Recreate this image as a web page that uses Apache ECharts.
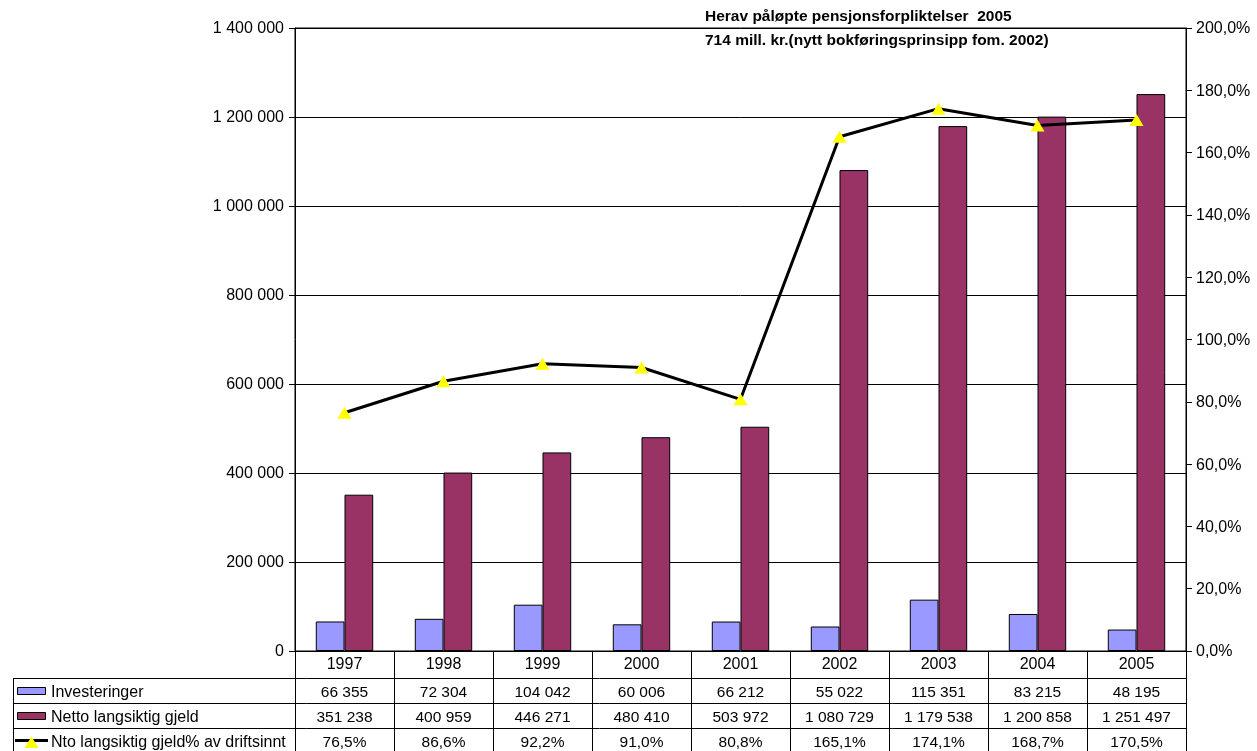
<!DOCTYPE html>
<html>
<head>
<meta charset="utf-8">
<script src="https://cdn.jsdelivr.net/npm/echarts@6/dist/echarts.min.js"></script>
<style>
  html, body { margin: 0; padding: 0; background: #fff; }
  #chart { width: 1257px; height: 751px; }
</style>
</head>
<body>
<div id="chart"></div>
<script>
// Investments and net long-term debt per year (NOK 1000), plus debt as share of operating income
const years = ['1997', '1998', '1999', '2000', '2001', '2002', '2003', '2004', '2005'];
const investeringer = [66355, 72304, 104042, 60006, 66212, 55022, 115351, 83215, 48195];
const nettoGjeld = [351238, 400959, 446271, 480410, 503972, 1080729, 1179538, 1200858, 1251497];
const gjeldProsent = [76.5, 86.6, 92.2, 91.0, 80.8, 165.1, 174.1, 168.7, 170.5];

// axis tick values
const leftTicks = [0, 200000, 400000, 600000, 800000, 1000000, 1200000, 1400000];
const rightTicks = [0, 20, 40, 60, 80, 100, 120, 140, 160, 180, 200];

const seriesNames = ['Investeringer', 'Netto langsiktig gjeld', 'Nto langsiktig gjeld% av driftsinnt'];
const noteLines = ['Herav påløpte pensjonsforpliktelser  2005', '714 mill. kr.(nytt bokføringsprinsipp fom. 2002)'];

const FONT = '"Liberation Sans", Arial, sans-serif';
const BLUE = '#9999FF';
const PLUM = '#993366';

function fmtThousands(v) {
  return String(Math.round(v)).replace(/\B(?=(\d{3})+(?!\d))/g, ' ');
}
function fmtPct(v) {
  return v.toFixed(1).replace('.', ',') + '%';
}

const GRID = { left: 295, right: 71, top: 28, bottom: 100 };
const W = 1257, H = 751;
const plotRight = W - GRID.right;

const chart = echarts.init(document.getElementById('chart'), null, { renderer: 'canvas' });

chart.setOption({
  animation: false,
  backgroundColor: '#fff',
  textStyle: { fontFamily: FONT },
  grid: Object.assign({ show: true, borderColor: '#000', borderWidth: 1, containLabel: false }, GRID),
  xAxis: {
    type: 'category',
    data: years,
    boundaryGap: true,
    axisLine: { show: true, lineStyle: { color: '#000', width: 1 } },
    axisTick: { show: true, length: 100, lineStyle: { color: '#000', width: 1 } },
    axisLabel: { show: false },
    splitLine: { show: false }
  },
  yAxis: [
    {
      type: 'value',
      min: leftTicks[0], max: leftTicks[leftTicks.length - 1], interval: leftTicks[1] - leftTicks[0],
      position: 'left',
      axisLine: { show: true, lineStyle: { color: '#000', width: 1 } },
      axisTick: { show: true, inside: false, length: 6, lineStyle: { color: '#000' } },
      axisLabel: { show: false },
      splitLine: { show: true, lineStyle: { color: '#000', width: 1 } }
    },
    {
      type: 'value',
      min: rightTicks[0], max: rightTicks[rightTicks.length - 1], interval: rightTicks[1] - rightTicks[0],
      position: 'right',
      axisLine: { show: true, lineStyle: { color: '#000', width: 1 } },
      axisTick: { show: true, inside: false, length: 6, lineStyle: { color: '#000' } },
      axisLabel: { show: false },
      splitLine: { show: false }
    }
  ],
  series: [
    {
      name: seriesNames[0], type: 'bar', data: investeringer,
      barGap: '0%', barCategoryGap: '42%',
      itemStyle: { color: BLUE, borderColor: '#000', borderWidth: 1 }
    },
    {
      name: seriesNames[1], type: 'bar', data: nettoGjeld,
      barGap: '0%', barCategoryGap: '42%',
      itemStyle: { color: PLUM, borderColor: '#000', borderWidth: 1 }
    },
    {
      name: seriesNames[2], type: 'line', yAxisIndex: 1, data: gjeldProsent,
      z: 5,
      lineStyle: { color: '#000', width: 3 },
      symbol: 'triangle', symbolSize: [14, 12], showAllSymbol: true,
      itemStyle: { color: '#FFFF00', borderWidth: 0 }
    }
  ]
});

const graphics = [];

function addText(txt, x, y, align, size, bold) {
  graphics.push({
    type: 'text', x: x, y: y, silent: true,
    style: { text: txt, fill: '#000', font: (bold ? 'bold ' : '') + size + 'px ' + FONT,
      textAlign: align, textVerticalAlign: 'middle' }
  });
}

// axis tick labels, placed through the axes' own scales
leftTicks.forEach(function (v) {
  addText(fmtThousands(v), GRID.left - 11, chart.convertToPixel({ yAxisIndex: 0 }, v) + 1, 'right', 16);
});
rightTicks.forEach(function (v) {
  addText(fmtPct(v), plotRight + 10, chart.convertToPixel({ yAxisIndex: 1 }, v) + 1, 'left', 16);
});

// Data table under the plot: year header, legend keys on the left, one value per year
const rowTops = [678, 703, 728];
const rowH = 25;
const tableLeft = 13;

years.forEach(function (yr, i) {
  addText(yr, chart.convertToPixel({ xAxisIndex: 0 }, i), 665, 'center', 16);
});

rowTops.forEach(function (y) {
  graphics.push({ type: 'line', shape: { x1: tableLeft, y1: y + 0.5, x2: plotRight, y2: y + 0.5 },
    style: { stroke: '#000', lineWidth: 1 }, silent: true });
});
graphics.push({ type: 'line', shape: { x1: tableLeft + 0.5, y1: rowTops[0], x2: tableLeft + 0.5, y2: H },
  style: { stroke: '#000', lineWidth: 1 }, silent: true });

// legend keys
const keyX = 17, keyW = 28;
[BLUE, PLUM].forEach(function (c, i) {
  const cy = Math.round(rowTops[i] + rowH / 2);
  graphics.push({ type: 'rect', shape: { x: keyX + 0.5, y: cy - 3.5, width: keyW, height: 7 },
    style: { fill: c, stroke: '#000', lineWidth: 1 }, silent: true });
});
(function () {
  const cy = rowTops[2] + rowH / 2;
  graphics.push({ type: 'line', shape: { x1: 15, y1: cy, x2: 48, y2: cy },
    style: { stroke: '#000', lineWidth: 3 }, silent: true });
  graphics.push({ type: 'polygon', shape: { points: [[31.5, cy - 4], [24.5, cy + 7.5], [38.5, cy + 7.5]] },
    style: { fill: '#FFFF00' }, silent: true });
})();

seriesNames.forEach(function (name, i) {
  addText(name, 51, rowTops[i] + rowH / 2 + 2, 'left', 16);
});

const rows = [investeringer.map(fmtThousands), nettoGjeld.map(fmtThousands), gjeldProsent.map(fmtPct)];
rows.forEach(function (vals, r) {
  vals.forEach(function (txt, i) {
    addText(txt, chart.convertToPixel({ xAxisIndex: 0 }, i), rowTops[r] + rowH / 2 + 2, 'center', 15.5);
  });
});

// note above the plot
noteLines.forEach(function (t, i) {
  addText(t, 705, 17 + i * 24, 'left', 15.5, true);
});

chart.setOption({ graphic: { elements: graphics } });
</script>
</body>
</html>
